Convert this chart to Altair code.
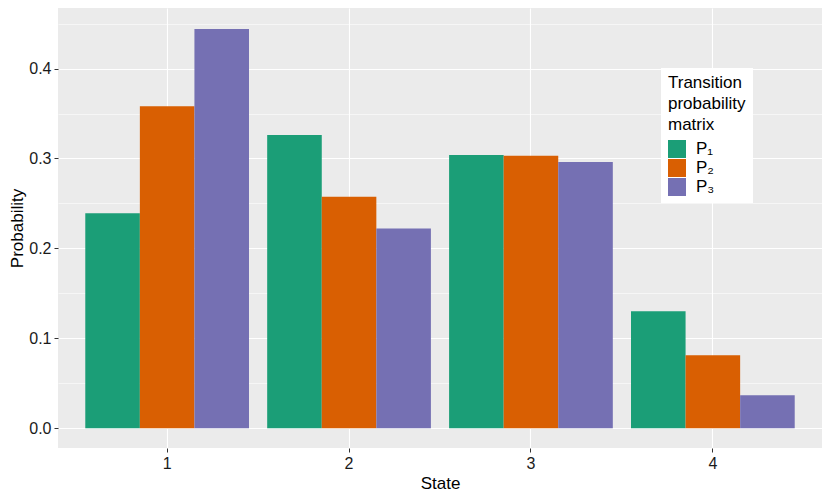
import altair as alt
import pandas as pd

states = ["1", "2", "3", "4"]
matrices = ["P₁", "P₂", "P₃"]
p1 = [0.239, 0.326, 0.304, 0.130]
p2 = [0.358, 0.2575, 0.303, 0.081]
p3 = [0.444, 0.222, 0.296, 0.0365]
colors = ["#1B9E77", "#D95F02", "#7570B3"]

rows = []
for m, vals in zip(matrices, [p1, p2, p3]):
    for s, v in zip(states, vals):
        rows.append({"State": s, "Matrix": m, "Probability": v})
df = pd.DataFrame(rows)

font = "Liberation Sans"
minor = "round(datum.value*100) % 10 != 0"

chart = alt.Chart(df).mark_bar(strokeWidth=0).encode(
    x=alt.X("State:N", sort=states,
            scale=alt.Scale(paddingInner=0.1, paddingOuter=0.15),
            axis=alt.Axis(title="State", labelAngle=0, bandPosition=0.5, grid=True,
                          labelFontSize=16, titleFontSize=17, labelColor="#1a1a1a",
                          titleColor="#000000", titleFontWeight="normal",
                          tickColor="#333333", tickSize=4,
                          labelPadding=3, titlePadding=4, domain=False,
                          gridColor="white", gridWidth=1.1)),
    xOffset=alt.XOffset("Matrix:N", sort=matrices, scale=alt.Scale(paddingInner=0, paddingOuter=0)),
    y=alt.Y("Probability:Q",
            scale=alt.Scale(domain=[-0.0221, 0.4674], nice=False, zero=False),
            axis=alt.Axis(title="Probability",
                          values=[0.0, 0.05, 0.1, 0.15, 0.2, 0.25, 0.3, 0.35, 0.4, 0.45],
                          labelExpr="round(datum.value*100) % 10 == 0 ? format(datum.value, '.1f') : ''",
                          gridWidth={"condition": {"test": minor, "value": 0.55}, "value": 1.1},
                          tickOpacity={"condition": {"test": minor, "value": 0}, "value": 1},
                          gridColor="white", domain=False, tickColor="#333333", tickSize=4,
                          labelFontSize=16, titleFontSize=17, labelColor="#1a1a1a",
                          titleColor="#000000", titleFontWeight="normal",
                          labelPadding=3, titlePadding=2)),
    color=alt.Color("Matrix:N", sort=matrices,
                    scale=alt.Scale(domain=matrices, range=colors),
                    legend=alt.Legend(title=["Transition", "probability", "matrix"],
                                      orient="none", legendX=603, legendY=60,
                                      fillColor="white", padding=7,
                                      titleFontSize=17, titleFontWeight="normal",
                                      titleLineHeight=21, titleColor="#000000",
                                      labelFontSize=17, labelColor="#000000",
                                      symbolType="square", symbolSize=324,
                                      symbolStrokeWidth=0, symbolOpacity=1,
                                      rowPadding=1, labelOffset=10, titlePadding=6)),
).properties(
    width=764, height=440, padding=0
).configure(
    font=font,
    view=alt.ViewConfig(fill="#EBEBEB", stroke=None),
)

chart.save("out.html", embed_options={"renderer": "svg", "actions": False})
